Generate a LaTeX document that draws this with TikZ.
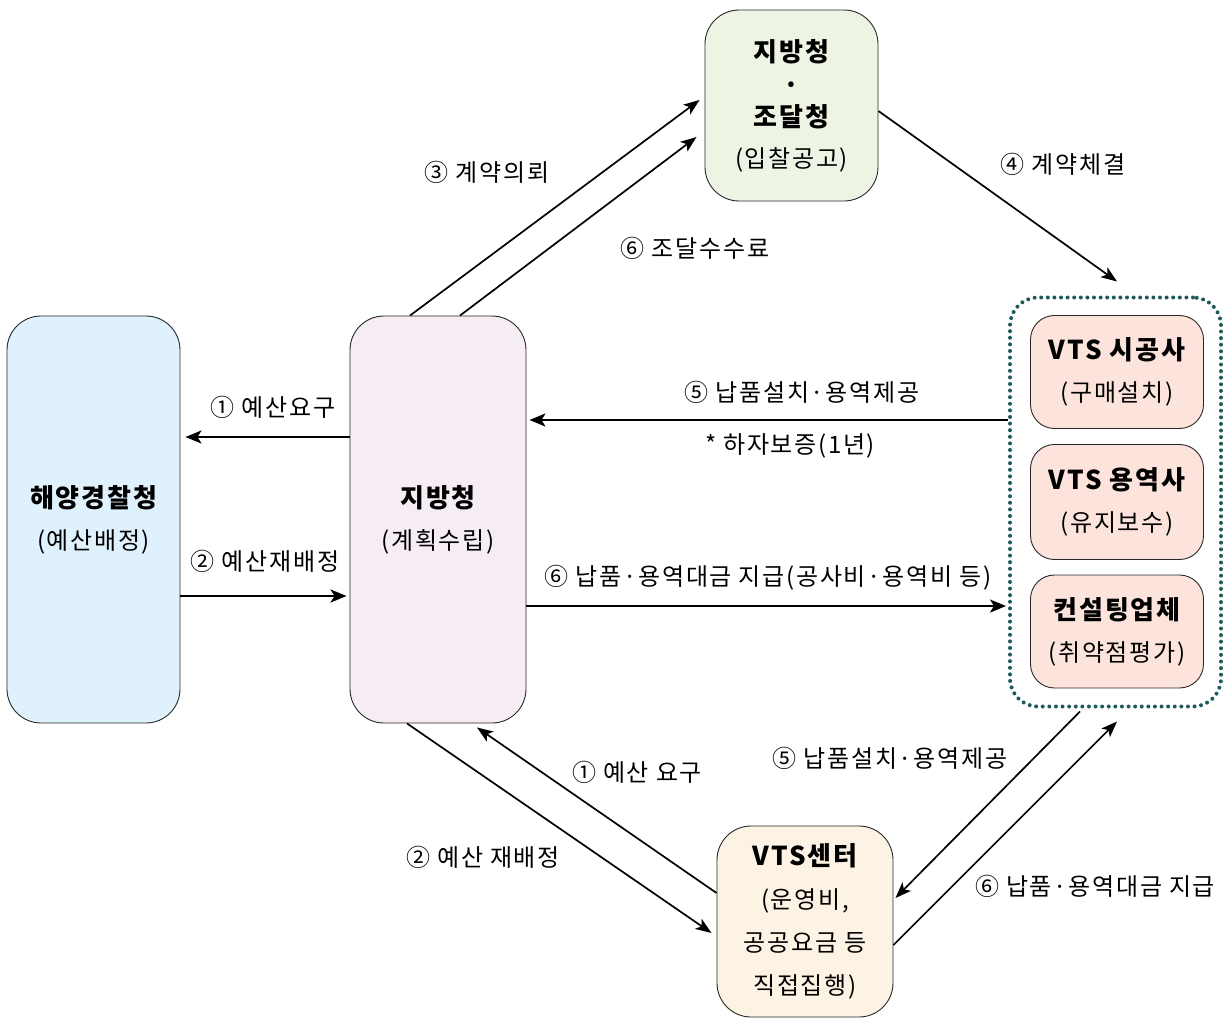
\documentclass[tikz,border=0pt]{standalone}
\usepackage{fontspec}
\setmainfont{Noto Sans CJK KR}[LetterSpace=7]
\usetikzlibrary{arrows.meta,calc}
\definecolor{cblue}{RGB}{223,241,252}
\definecolor{cpink}{RGB}{246,236,244}
\definecolor{cgreen}{RGB}{238,244,228}
\definecolor{csalmon}{RGB}{252,228,220}
\definecolor{ccream}{RGB}{252,243,228}
\definecolor{cteal}{RGB}{30,90,92}
\definecolor{cborder}{RGB}{40,40,40}
\newcommand{\ttl}[1]{{\fontsize{26}{42}\selectfont\bfseries #1}}
\begin{document}
\begin{tikzpicture}[x=1pt,y=-1pt,
  box/.style={draw=cborder, line width=0.9pt, align=center, inner sep=0pt,
    font=\fontsize{24}{42}\selectfont},
  bigbox/.style={box, rounded corners=34pt},
  smallbox/.style={box, rounded corners=24pt, minimum width=173pt},
  grp/.style={draw=cteal, line width=4pt, dash pattern=on 0pt off 6.6pt, line cap=round, rounded corners=28pt},
  harr/.style={line width=2.2pt, -{Stealth[length=16pt,width=13pt,inset=4pt]}},
  darr/.style={line width=1.7pt, -{Stealth[length=16pt,width=12pt,inset=4pt]}},
  lbl/.style={font=\fontsize{24}{30}\selectfont, inner sep=0pt}
]
\useasboundingbox (0,0) rectangle (1226,1020);

% boxes
\node[bigbox, fill=cblue, minimum width=173pt, minimum height=407pt] (hg) at (93.5,519.5)
  {\ttl{해양경찰청}\\(예산배정)};
\node[bigbox, fill=cpink, minimum width=176pt, minimum height=407pt] (jb) at (438,519.5)
  {\ttl{지방청}\\(계획수립)};
\node[bigbox, fill=cgreen, minimum width=173pt, minimum height=191pt] (tb) at (791.5,105.5)
  {\ttl{지방청}\\[-9pt]\ttl{·}\\[-10pt]\ttl{조달청}\\[-1pt](입찰공고)};
\node[bigbox, fill=ccream, minimum width=176pt, minimum height=191pt, font=\fontsize{24}{43}\selectfont] (vc) at (805,921.5)
  {\ttl{VTS센터}\\(운영비,\\공공요금 등\\직접집행)};

\node[smallbox, fill=csalmon, minimum height=113pt] (s1) at (1117,372)
  {\ttl{VTS 시공사}\\(구매설치)};
\node[smallbox, fill=csalmon, minimum height=115pt] (s2) at (1117,502)
  {\ttl{VTS 용역사}\\(유지보수)};
\node[smallbox, fill=csalmon, minimum height=113pt] (s3) at (1117,631.5)
  {\ttl{컨설팅업체}\\(취약점평가)};

\node[grp, minimum width=211pt, minimum height=409pt, inner sep=0pt] (g) at (1115.5,502) {};

% horizontal arrows
\draw[harr] ([yshift=82.5pt]jb.west) -- ([yshift=82.5pt,xshift=5pt]hg.east);
\draw[harr] ([yshift=-76.5pt]hg.east) -- ([yshift=-76.5pt,xshift=-3pt]jb.west);
\draw[harr] ([yshift=82pt]g.west) -- ([yshift=99.5pt,xshift=3pt]jb.east);
\draw[harr] ([yshift=-86.5pt]jb.east) -- ([yshift=-104pt,xshift=-2pt]g.west);

% diagonal arrows
\draw[darr] ([xshift=-28pt]jb.north) -- ([yshift=5.5pt,xshift=-5pt]tb.west);
\draw[darr] ([xshift=22pt]jb.north) -- ([yshift=-31.5pt,xshift=-8pt]tb.west);
\draw[darr] ([yshift=-5.5pt]tb.east) -- ([xshift=1.5pt,yshift=14pt]g.north);
\draw[darr] ([xshift=-31pt]jb.south) -- ([yshift=-11.5pt,xshift=-5pt]vc.west);
\draw[darr] ([yshift=28.5pt]vc.west) -- ([xshift=39pt,yshift=-4pt]jb.south);
\draw[darr] ([xshift=-35.5pt,yshift=-3pt]g.south) -- ([yshift=23.5pt,xshift=2pt]vc.east);
\draw[darr] ([yshift=-23.5pt]vc.east) -- ([xshift=1.5pt,yshift=-13pt]g.south);

% labels
\node[lbl] (l1) at (273,407) {① 예산요구};
\node[lbl] (l2) at (265,561) {② 예산재배정};
\node[lbl] (l3) at (487,172) {③ 계약의뢰};
\node[lbl] (l4) at (695,248) {⑥ 조달수수료};
\node[lbl] (l5) at (1063,164) {④ 계약체결};
\node[lbl] (l6) at (802,392) {⑤ 납품설치·용역제공};
\node[lbl] (l7) at (790,446) {* 하자보증(1년)};
\node[lbl] (l8) at (768,578) {⑥ 납품·용역대금 지급(공사비·용역비 등)};
\node[lbl] (l9) at (637,772) {① 예산 요구};
\node[lbl] (l10) at (483,857) {② 예산 재배정};
\node[lbl] (l11) at (890,758) {⑤ 납품설치·용역제공};
\node[lbl] (l12) at (1095,886) {⑥ 납품·용역대금 지급};
\end{tikzpicture}
\end{document}
